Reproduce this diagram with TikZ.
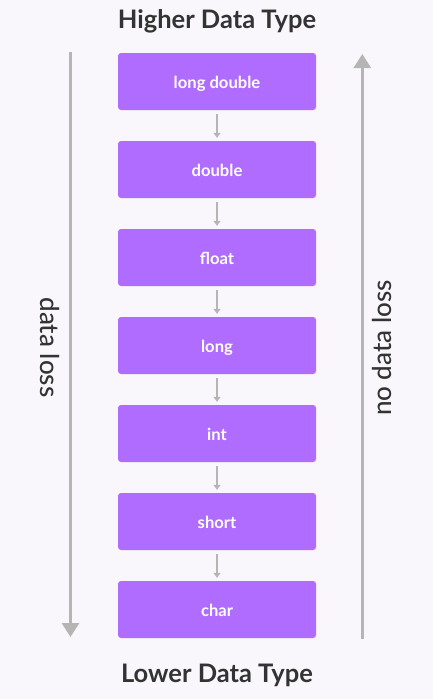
\documentclass[tikz,border=0pt]{standalone}
\usepackage{fontspec}
\setmainfont{Lato}
\newfontfamily\latomed{Lato Medium}
\usetikzlibrary{arrows.meta}
\definecolor{bgc}{HTML}{F9F7FB}
\definecolor{boxc}{HTML}{B06CFE}
\definecolor{arrc}{HTML}{B5B5B5}
\definecolor{txtc}{HTML}{333333}
\begin{document}
\begin{tikzpicture}[x=1pt,y=-1pt,
  tbox/.style={fill=boxc, rounded corners=3pt, minimum width=198pt, minimum height=57pt,
    inner sep=0pt, text=white, text height=13pt, text depth=0pt,
    font=\bfseries\fontsize{16.6}{18}\selectfont},
  smallarr/.style={draw=arrc, line width=1.5pt, -{Triangle[length=5pt,width=7pt]},
    shorten <=4pt, shorten >=3pt},
  bigarr/.style={draw=arrc, line width=3pt, -{Triangle[length=14pt,width=17pt]}},
  title/.style={text=txtc, font=\bfseries\fontsize{25.5}{28}\selectfont, anchor=base, inner sep=0pt},
  side/.style={text=txtc, font=\latomed\fontsize{26}{28}\selectfont, anchor=base, inner sep=0pt}]
\fill[bgc] (0,0) rectangle (433,699);
\useasboundingbox (0,0) rectangle (433,699);
\node[title] (top) at (217,28) {Higher Data Type};
\node[title] (bot) at (217,682.5) {Lower Data Type};
\node[tbox] (b1) at (217,81.5) {long double};
\node[tbox] (b2) at (217,169.5) {double};
\node[tbox] (b3) at (217,257.5) {float};
\node[tbox] (b4) at (217,345.5) {long};
\node[tbox] (b5) at (217,433.5) {int};
\node[tbox] (b6) at (217,521.5) {short};
\node[tbox] (b7) at (217,609.5) {char};
\foreach \a/\b in {b1/b2,b2/b3,b3/b4,b4/b5,b5/b6,b6/b7}
  \draw[smallarr] (\a) -- (\b);
\coordinate (lt) at (70.5,52);
\coordinate (lb) at (70.5,637);
\coordinate (rb) at (362.3,639);
\coordinate (rt) at (362.3,54);
\draw[bigarr] (lt) -- (lb);
\draw[bigarr] (rb) -- (rt);
\node[side, rotate=-90] (dl) at (40.5,347.5) {data loss};
\node[side, rotate=90] (ndl) at (391.5,348) {no data loss};
\end{tikzpicture}
\end{document}
